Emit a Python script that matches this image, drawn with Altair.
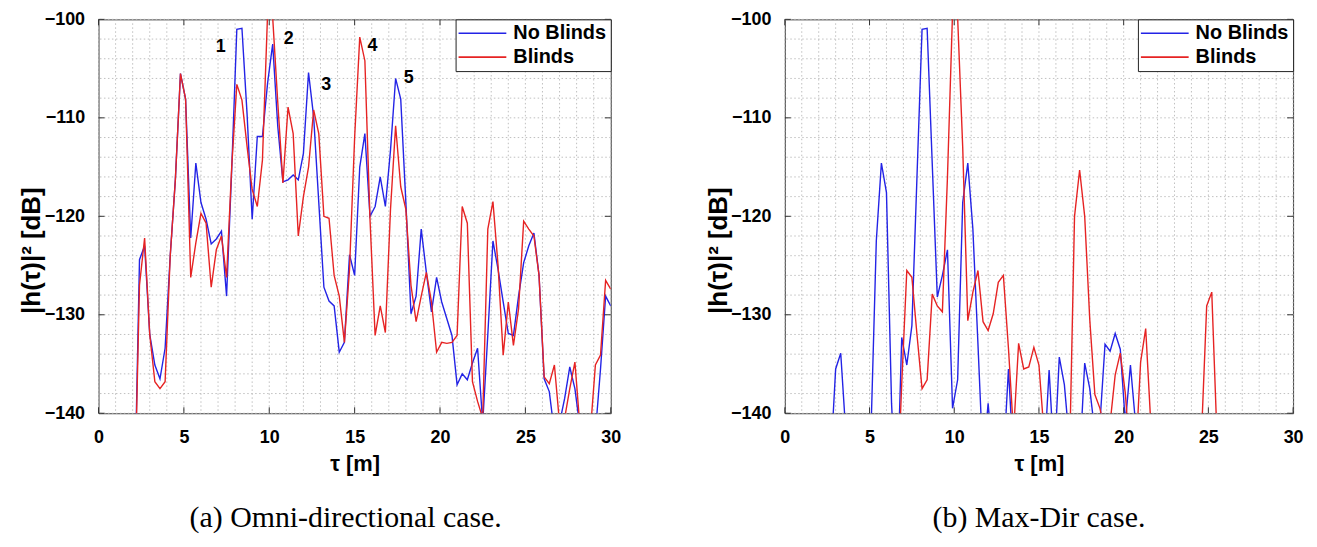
import altair as alt
import pandas as pd

# ---------------- data ----------------
TAU = [0.0, 0.3, 0.6, 0.9, 1.2, 1.5, 1.8, 2.1, 2.4, 2.7,
       3.0, 3.3, 3.6, 3.9, 4.2, 4.5, 4.8, 5.1, 5.4, 5.7,
       6.0, 6.3, 6.6, 6.9, 7.2, 7.5, 7.8, 8.1, 8.4, 8.7,
       9.0, 9.3, 9.6, 9.9, 10.2, 10.5, 10.8, 11.1, 11.4, 11.7,
       12.0, 12.3, 12.6, 12.9, 13.2, 13.5, 13.8, 14.1, 14.4, 14.7,
       15.0, 15.3, 15.6, 15.9, 16.2, 16.5, 16.8, 17.1, 17.4, 17.7,
       18.0, 18.3, 18.6, 18.9, 19.2, 19.5, 19.8, 20.1, 20.4, 20.7,
       21.0, 21.3, 21.6, 21.9, 22.2, 22.5, 22.8, 23.1, 23.4, 23.7,
       24.0, 24.3, 24.6, 24.9, 25.2, 25.5, 25.8, 26.1, 26.4, 26.7,
       27.0, 27.3, 27.6, 27.9, 28.2, 28.5, 28.8, 29.1, 29.4, 29.7,
       30.0]

OMNI_NO_BLINDS = [
    -150, -150, -150, -150, -150, -150, -150, -150, -124.4, -123.0,
    -132.0, -135.1, -136.5, -133.4, -124.0, -116.3, -105.5, -108.1, -122.2, -114.6,
    -118.6, -120.3, -122.8, -122.3, -121.5, -128.1, -115.3, -101.0, -100.9, -109.6,
    -120.3, -111.9, -111.9, -106.5, -102.5, -110.9, -116.5, -116.3, -115.8, -116.3,
    -113.6, -105.4, -109.9, -118.6, -127.2, -128.6, -129.1, -133.8, -132.8, -123.9,
    -126.0, -115.0, -111.6, -120.0, -119.0, -116.0, -119.0, -113.3, -106.0, -108.1,
    -118.6, -129.9, -128.1, -121.3, -125.7, -129.7, -126.2, -128.7, -130.4, -132.1,
    -137.1, -136.0, -136.6, -134.9, -133.4, -141.0, -132.0, -122.5, -125.4, -128.7,
    -131.9, -132.1, -128.1, -124.7, -123.0, -121.7, -126.0, -136.5, -137.8, -142.0,
    -141.0, -138.5, -135.3, -137.5, -141.5, -145.0, -145.0, -142.0, -135.5, -128.1,
    -129.1]

OMNI_BLINDS = [
    -150, -150, -150, -150, -150, -150, -150, -150, -127.0, -122.2,
    -132.0, -136.8, -137.5, -136.8, -124.0, -116.3, -105.5, -108.1, -126.2, -122.7,
    -119.7, -120.7, -127.2, -123.4, -122.0, -126.2, -115.0, -106.6, -108.2, -112.9,
    -117.3, -119.0, -114.3, -99.5, -99.8, -108.5, -116.6, -108.9, -111.6, -122.0,
    -118.0, -115.0, -109.2, -111.6, -120.0, -120.2, -126.0, -128.1, -132.8, -125.4,
    -112.0, -101.8, -104.2, -120.3, -132.1, -129.1, -131.8, -119.3, -110.8, -117.0,
    -119.3, -127.0, -130.7, -128.1, -125.7, -128.7, -133.8, -132.8, -132.9, -132.8,
    -132.1, -119.0, -120.7, -136.8, -138.8, -140.5, -121.3, -118.5, -125.0, -134.1,
    -128.7, -133.1, -129.4, -120.5, -121.3, -122.0, -126.0, -136.3, -137.0, -135.1,
    -141.0, -140.5, -137.5, -134.8, -141.5, -145.0, -142.0, -135.1, -134.1, -126.5,
    -127.4]

MAXDIR_NO_BLINDS = [
    -150, -150, -150, -150, -150, -150, -150, -150, -150, -145,
    -135.5, -133.9, -142, -150, -150, -150, -150, -141, -122.5, -114.6,
    -117.6, -139, -150, -132.3, -135.1, -131.1, -116, -101.0, -100.9, -114.6,
    -128.2, -126.0, -123.4, -139.5, -136.6, -118.6, -114.6, -121.3, -133, -145,
    -139.0, -145, -150, -145, -135.5, -145, -150, -150, -150, -150,
    -150, -145, -135.6, -145, -134.3, -137.1, -143, -150, -145, -134.9,
    -137.5, -142, -141, -133.0, -133.7, -131.9, -133.5, -141, -135.1, -141,
    -150, -150, -150, -150, -150, -150, -150, -150, -150, -150,
    -150, -150, -150, -150, -150, -150, -150, -150, -150, -150,
    -150, -150, -150, -150, -150, -150, -150, -150, -150, -150,
    -150]

MAXDIR_BLINDS = [
    -150, -150, -150, -150, -150, -150, -150, -150, -150, -150,
    -150, -150, -150, -150, -150, -150, -150, -150, -150, -150,
    -150, -150, -150, -137, -125.5, -126.2, -132, -137.5, -136.6, -127.9,
    -129.1, -129.7, -116, -99.3, -99.8, -113, -130.6, -127.7, -125.5, -130.7,
    -131.6, -129.9, -126.7, -126.0, -133.4, -142, -132.9, -135.5, -135.3, -133.3,
    -135.1, -142, -150, -150, -150, -150, -145, -120.0, -115.3, -120.0,
    -130.5, -138.1, -139.5, -142, -141, -136.1, -133.9, -138, -145, -145,
    -134.8, -131.4, -141, -150, -150, -150, -150, -150, -150, -150,
    -150, -150, -142, -129.1, -127.7, -142, -150, -150, -150, -150,
    -150, -150, -150, -150, -150, -150, -150, -150, -150, -150,
    -150]

SERIES = ["No Blinds", "Blinds"]
COLORS = ["#2323e6", "#e62323"]

X_TICKS = [0, 5, 10, 15, 20, 25, 30]
Y_TICKS = [-140, -130, -120, -110, -100]
X_GRID = list(range(0, 31))
Y_GRID = list(range(-140, -99, 2))

PEAK_TAU = [7.16, 11.14, 13.34, 16.05, 18.17]
PEAK_DB = [-102.8, -102.0, -106.7, -102.7, -106.0]
PEAK_TEXT = ["1", "2", "3", "4", "5"]

H = 396
SANS = "Liberation Sans"
SERIF = "Liberation Serif"


def panel(no_blinds, blinds, w, caption, cap_dx, peaks=False):
    xs = alt.Scale(domain=[0, 30], nice=False, zero=False)
    ys = alt.Scale(domain=[-140, -100], nice=False, zero=False)
    cs = alt.Scale(domain=SERIES, range=COLORS)

    xaxis = alt.Axis(values=X_TICKS, title="τ [m]", labelFlush=False,
                     labelPadding=15, titlePadding=8, titleFontSize=22)
    yaxis = alt.Axis(values=Y_TICKS, title="|h(τ)|² [dB]", labelPadding=14,
                     titleX=-67, titleY=232, titleAlign="center",
                     titleBaseline="middle", titleAngle=270, titleFontSize=26)

    def X(f):
        return alt.X(f, scale=xs, axis=xaxis)

    def Y(f):
        return alt.Y(f, scale=ys, axis=yaxis)

    legend = alt.Legend(orient="top-right", offset=0, title=None,
                        symbolType="M-4.8,0H4.8", symbolSize=100,
                        symbolStrokeWidth=1.6, symbolOffset=13,
                        labelFont=SANS, labelFontSize=20, labelFontWeight="bold",
                        labelColor="black", strokeColor="#222222",
                        fillColor="white", padding=4, rowPadding=4,
                        labelOffset=21, cornerRadius=0)

    grid_style = dict(color="#b8b8b8", strokeWidth=0.9, strokeDash=[1.5, 2.5])
    gx = alt.Chart(pd.DataFrame({"g": X_GRID})).mark_rule(**grid_style).encode(x=X("g:Q"))
    gy = alt.Chart(pd.DataFrame({"g": Y_GRID})).mark_rule(**grid_style).encode(y=Y("g:Q"))

    d0 = pd.DataFrame({"tau": TAU, "val": no_blinds, "series": SERIES[0]})
    d1 = pd.DataFrame({"tau": TAU, "val": blinds, "series": SERIES[1]})
    l0 = alt.Chart(d0).mark_line(clip=True, strokeWidth=1.4).encode(
        x=X("tau:Q"), y=Y("val:Q"),
        color=alt.Color("series:N", scale=cs, legend=legend))
    l1 = alt.Chart(d1).mark_line(clip=True, strokeWidth=1.4).encode(
        x=X("tau:Q"), y=Y("val:Q"),
        color=alt.Color("series:N", scale=cs, legend=legend))

    tick_style = dict(color="#333333", strokeWidth=1)
    tdx = pd.DataFrame({"t": X_TICKS})
    tdy = pd.DataFrame({"t": Y_TICKS})
    tb = alt.Chart(tdx).mark_rule(**tick_style).encode(
        x=X("t:Q"), y=alt.value(H), y2=alt.value(H - 6))
    tt = alt.Chart(tdx).mark_rule(**tick_style).encode(
        x=X("t:Q"), y=alt.value(0), y2=alt.value(6))
    tl = alt.Chart(tdy).mark_rule(**tick_style).encode(
        y=Y("t:Q"), x=alt.value(0), x2=alt.value(6))
    tr = alt.Chart(tdy).mark_rule(**tick_style).encode(
        y=Y("t:Q"), x=alt.value(w), x2=alt.value(w - 6))

    layers = [gx, gy, l0, l1, tb, tt, tl, tr]
    if peaks:
        txt = alt.Chart(pd.DataFrame({"t": PEAK_TAU, "d": PEAK_DB, "s": PEAK_TEXT})).mark_text(
            font=SANS, fontSize=18, fontWeight="bold", color="black").encode(
            x=X("t:Q"), y=Y("d:Q"), text="s:N")
        layers.append(txt)

    return alt.layer(*layers).properties(
        width=w, height=H,
        title=alt.TitleParams(caption, orient="bottom", font=SERIF, fontSize=30,
                              fontWeight="normal", color="black", offset=28,
                              anchor="middle", dx=cap_dx))


left = panel(OMNI_NO_BLINDS, OMNI_BLINDS, 515, "(a) Omni-directional case.", -9, peaks=True)
right = panel(MAXDIR_NO_BLINDS, MAXDIR_BLINDS, 511, "(b) Max-Dir case.", 0)

chart = alt.hconcat(left, right, spacing=83).resolve_scale(
    color="independent").properties(
    padding={"left": 10, "top": 0, "right": 5, "bottom": 5}
).configure_view(stroke="#404040", strokeWidth=1).configure_axis(
    grid=False, ticks=False, domain=False,
    labelFont=SANS, labelFontSize=18, labelFontWeight="bold", labelColor="black",
    titleFont=SANS, titleFontSize=19, titleFontWeight="bold", titleColor="black")

chart.save("out.html", embed_options={"renderer": "svg", "actions": False})
